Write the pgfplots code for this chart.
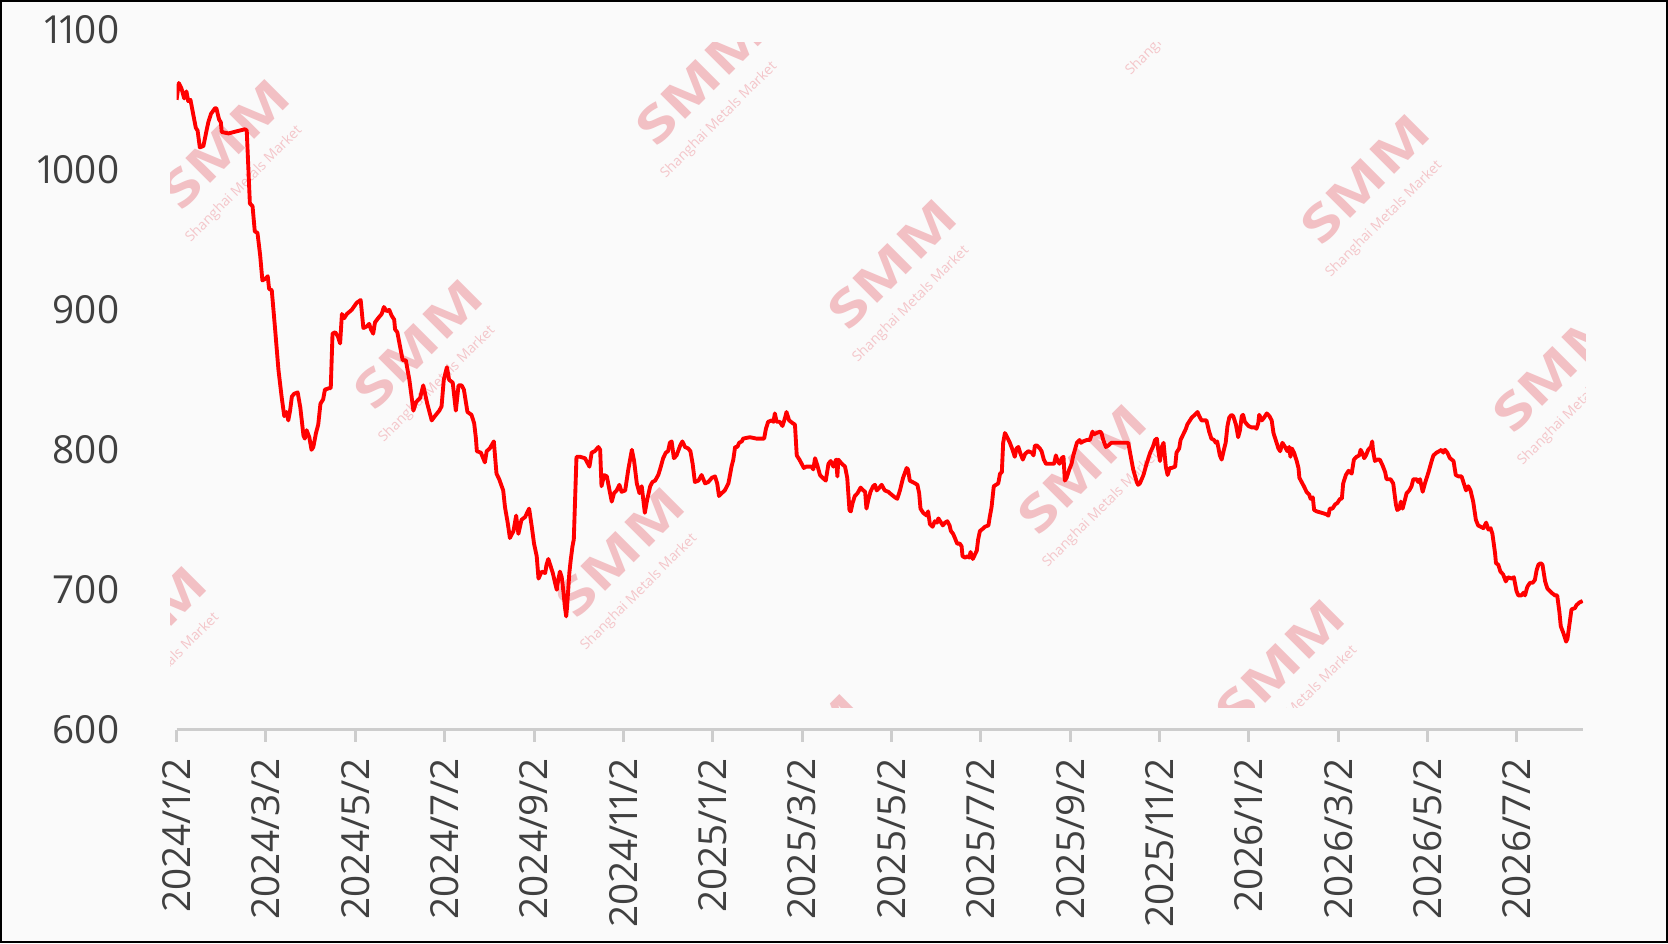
\documentclass[border=0pt]{standalone}
\usepackage{pgfplots}
\pgfplotsset{compat=1.18}
\usepackage{fontspec}
\setmainfont{Open Sans}[Numbers=Proportional]
\setsansfont{Open Sans}[Numbers=Proportional]
\definecolor{bgc}{RGB}{250,250,250}
\definecolor{txt}{RGB}{64,64,64}
\definecolor{axc}{RGB}{205,205,205}
\definecolor{wm}{RGB}{242,192,196}
\definecolor{wmt}{RGB}{244,198,202}
\pgfplotstableread{
m v
0.00 1050
0.05 1062
0.11 1058
0.17 1051
0.22 1056
0.26 1049
0.31 1050
0.37 1040
0.43 1030
0.47 1028
0.52 1016
0.60 1017
0.67 1028
0.71 1034
0.77 1040
0.86 1044
0.89 1044
0.95 1036
0.99 1034
1.01 1027
1.16 1026
1.53 1029
1.57 1028
1.64 976
1.70 974
1.75 956
1.81 955
1.87 939
1.92 921
1.98 922
2.04 924
2.07 915
2.13 914
2.20 888
2.28 857
2.35 838
2.41 824
2.46 827
2.50 821
2.54 828
2.58 838
2.63 840
2.71 841
2.77 830
2.84 810
2.87 808
2.91 814
2.97 809
3.02 800
3.06 802
3.12 812
3.17 818
3.22 833
3.28 836
3.32 843
3.41 844
3.45 844
3.49 883
3.55 884
3.61 881
3.66 876
3.70 897
3.75 894
3.81 897
3.92 900
4.03 905
4.12 907
4.18 887
4.25 888
4.31 890
4.35 886
4.40 883
4.44 891
4.51 894
4.59 897
4.64 902
4.70 899
4.76 900
4.81 896
4.87 893
4.89 886
4.94 884
5.00 874
5.06 864
5.13 864
5.21 850
5.30 828
5.36 834
5.45 837
5.52 846
5.61 833
5.71 821
5.78 824
5.88 828
5.93 831
5.98 850
6.05 859
6.10 850
6.18 848
6.25 828
6.31 846
6.38 846
6.43 843
6.51 827
6.60 825
6.66 819
6.70 808
6.72 799
6.81 798
6.90 791
6.94 799
7.01 801
7.10 806
7.16 783
7.22 779
7.31 771
7.35 759
7.41 748
7.46 737
7.54 742
7.60 753
7.65 740
7.72 750
7.80 752
7.89 758
7.95 745
8.00 733
8.06 724
8.10 708
8.17 713
8.25 712
8.28 718
8.32 722
8.37 717
8.42 712
8.47 705
8.51 700
8.54 707
8.58 713
8.62 709
8.66 698
8.69 688
8.72 681
8.74 688
8.79 712
8.82 721
8.86 731
8.89 736
8.95 795
9.03 795
9.14 794
9.24 788
9.29 798
9.36 799
9.44 802
9.48 800
9.51 774
9.57 782
9.63 781
9.69 771
9.74 763
9.79 769
9.85 771
9.91 775
9.96 770
10.04 771
10.11 786
10.19 800
10.24 792
10.30 776
10.36 769
10.41 774
10.48 755
10.53 764
10.60 774
10.65 777
10.71 778
10.78 782
10.82 786
10.89 794
10.95 798
11.00 799
11.04 805
11.08 806
11.13 794
11.19 796
11.27 803
11.32 806
11.38 802
11.45 801
11.50 799
11.55 790
11.60 777
11.68 778
11.75 782
11.83 776
11.90 777
11.98 780
12.05 781
12.10 776
12.14 767
12.20 769
12.27 771
12.35 776
12.38 781
12.42 788
12.46 793
12.50 802
12.55 802
12.59 805
12.65 806
12.68 808
12.83 809
12.98 808
13.15 808
13.19 815
13.24 820
13.32 821
13.36 820
13.39 826
13.43 820
13.50 820
13.56 817
13.62 823
13.65 827
13.71 821
13.79 819
13.84 818
13.88 796
13.94 793
13.99 790
14.04 787
14.09 788
14.21 788
14.25 786
14.29 794
14.34 789
14.40 782
14.46 780
14.53 778
14.59 790
14.64 792
14.70 788
14.76 793
14.79 781
14.81 793
14.89 790
14.96 788
15.01 780
15.06 757
15.09 756
15.13 762
15.18 767
15.24 769
15.31 773
15.37 771
15.41 770
15.44 758
15.48 764
15.53 770
15.59 774
15.63 775
15.67 771
15.73 773
15.78 775
15.85 771
15.93 770
16.00 768
16.08 766
16.13 765
16.19 771
16.26 780
16.34 787
16.37 786
16.41 778
16.47 777
16.53 776
16.58 775
16.62 769
16.65 758
16.71 755
16.79 753
16.82 756
16.86 747
16.92 745
16.97 749
17.02 748
17.05 751
17.09 749
17.15 746
17.20 748
17.25 749
17.30 746
17.33 742
17.38 740
17.42 737
17.47 733
17.53 733
17.57 731
17.59 724
17.65 723
17.70 724
17.74 723
17.77 727
17.82 722
17.85 724
17.91 728
17.94 736
17.98 742
18.06 744
18.09 745
18.17 746
18.20 752
18.24 759
18.29 774
18.34 775
18.39 776
18.43 783
18.47 784
18.50 805
18.54 812
18.59 809
18.65 805
18.71 800
18.76 795
18.80 801
18.84 802
18.89 797
18.94 793
18.99 797
19.06 799
19.14 798
19.18 796
19.21 803
19.26 803
19.32 801
19.36 799
19.41 793
19.46 790
19.51 790
19.59 790
19.64 790
19.68 796
19.71 793
19.76 790
19.81 794
19.85 795
19.88 778
19.92 780
19.98 786
20.03 790
20.07 796
20.15 805
20.21 807
20.24 805
20.29 806
20.37 807
20.44 807
20.50 813
20.53 811
20.59 812
20.67 813
20.70 812
20.74 807
20.80 802
20.85 803
20.92 805
21.11 805
21.30 805
21.34 798
21.41 786
21.49 777
21.52 775
21.56 776
21.64 782
21.71 790
21.79 798
21.85 802
21.90 807
21.94 808
21.97 800
22.01 792
22.05 802
22.09 805
22.14 788
22.18 782
22.23 787
22.27 787
22.35 788
22.38 798
22.44 801
22.47 807
22.53 811
22.59 815
22.62 818
22.66 820
22.72 823
22.79 825
22.85 827
22.89 824
22.94 821
23.05 821
23.11 813
23.16 808
23.22 807
23.26 805
23.29 806
23.35 796
23.39 793
23.44 800
23.48 805
23.52 817
23.56 823
23.61 825
23.65 824
23.71 818
23.76 809
23.80 814
23.84 824
23.87 825
23.91 820
23.99 817
24.06 816
24.14 816
24.17 815
24.21 819
24.23 825
24.29 821
24.34 823
24.40 826
24.46 824
24.51 821
24.55 812
24.61 806
24.66 801
24.70 799
24.75 805
24.81 802
24.86 799
24.90 802
24.93 795
24.96 801
25.01 798
25.07 792
25.11 787
25.13 780
25.18 777
25.23 774
25.29 770
25.35 768
25.38 765
25.43 766
25.46 757
25.52 756
25.63 755
25.73 754
25.78 753
25.81 758
25.87 758
25.93 761
25.98 762
26.04 765
26.08 765
26.11 776
26.17 782
26.23 785
26.30 783
26.35 793
26.41 795
26.47 796
26.50 800
26.55 797
26.58 794
26.62 796
26.67 800
26.73 802
26.76 806
26.78 799
26.82 792
26.87 793
26.93 793
26.99 789
27.05 784
27.08 779
27.17 779
27.23 776
27.29 761
27.32 757
27.37 758
27.40 763
27.44 758
27.49 764
27.53 769
27.59 771
27.64 774
27.68 779
27.75 779
27.79 777
27.83 779
27.89 770
27.94 776
28.02 784
28.09 792
28.13 796
28.20 798
28.26 799
28.31 800
28.35 798
28.39 800
28.44 798
28.50 794
28.58 792
28.63 782
28.69 781
28.76 781
28.81 776
28.86 771
28.91 774
28.96 771
29.02 763
29.08 750
29.13 746
29.19 745
29.25 744
29.31 748
29.36 743
29.41 744
29.45 740
29.51 726
29.53 719
29.58 718
29.63 713
29.69 711
29.75 706
29.80 709
29.88 708
29.93 709
29.99 699
30.03 696
30.10 696
30.15 698
30.18 696
30.23 702
30.29 705
30.35 705
30.40 707
30.44 714
30.48 718
30.53 719
30.57 718
30.63 706
30.68 701
30.74 699
30.77 698
30.85 696
30.90 696
30.95 684
30.98 674
31.04 669
31.10 663
31.13 665
31.19 679
31.22 686
31.30 687
31.33 689
31.40 691
31.47 692
}\price
\begin{document}
\begin{tikzpicture}
\fill[bgc] (0,0) rectangle (16.68,9.43);
\begin{scope}
\clip (1.70,2.355) rectangle (15.85,9.005);
\foreach \wx/\wy in {2.25/7.99, 7.00/8.63, 11.65/9.66, 4.18/5.99, 8.92/6.79, 13.65/7.64, 15.57/5.76, 1.42/3.12, 6.20/3.91, 10.82/4.74, 8.00/1.845, 12.80/2.79}{
  \begin{scope}[shift={(\wx,\wy)}, rotate=45, transform shape]
    \node[text=wm, inner sep=0pt, xscale=1.32, font=\fontsize{14}{14}\selectfont\bfseries] at (0,0) {SMM};
    \node[text=wmt, inner sep=0pt, font=\fontsize{4}{4}\selectfont] at (-0.15,-0.42) {Shanghai Metals Market};
  \end{scope}
}
\end{scope}
\begin{axis}[
  at={(1.766cm,2.132cm)}, anchor=south west,
  scale only axis, width=14.065cm, height=7cm,
  xmin=0, xmax=31.48, ymin=600, ymax=1100,
  axis lines*=left,
  x axis line style={draw=axc, line width=0.85pt, -},
  y axis line style={draw=none},
  xtick={0,2,...,30},
  xticklabels={2024/1/2,2024/3/2,2024/5/2,2024/7/2,2024/9/2,2024/11/2,2025/1/2,2025/3/2,2025/5/2,2025/7/2,2025/9/2,2025/11/2,2026/1/2,2026/3/2,2026/5/2,2026/7/2},
  ytick={600,700,...,1100},
  yticklabels={600,700,800,900,1000,1100},
  tick align=outside,
  major tick length=0.12cm,
  xtick style={draw=axc, line width=0.85pt},
  ytick style={draw=none},
  ticklabel style={text=txt, font=\fontsize{11}{13}\selectfont},
  xticklabel style={rotate=90, anchor=east},
  yticklabel style={anchor=east},
  xticklabel shift=0.04cm,
  yticklabel shift=0.33cm,
]
\addplot[color=red, line width=1.1pt, line join=round, mark=none] table[x=m, y=v] {\price};
\end{axis}
\draw[black, line width=0.6pt] (0.01,0.01) rectangle (16.67,9.42);
\pgfresetboundingbox
\useasboundingbox (0,0) rectangle (16.68,9.43);
\end{tikzpicture}
\end{document}
